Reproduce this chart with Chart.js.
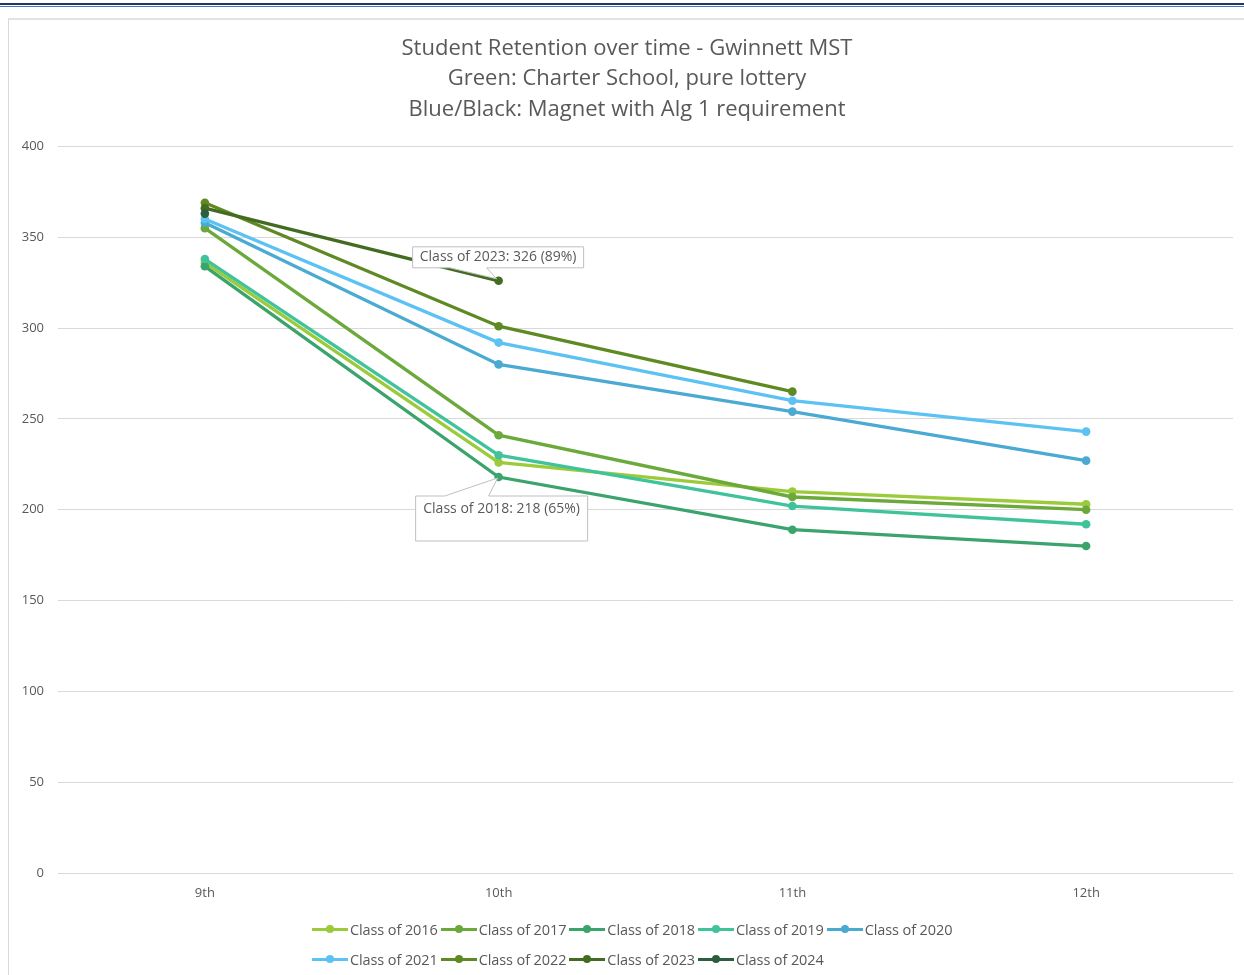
<!DOCTYPE html>
<html>
<head>
<meta charset="utf-8">
<script src="https://cdn.jsdelivr.net/npm/chart.js@4/dist/chart.umd.min.js"></script>
<style>
  body { margin: 0; background: #fff; }
  #wrap { position: relative; width: 1244px; height: 975px; overflow: hidden; }
  #topline { position: absolute; left: 0; top: 3px; width: 1244px; height: 1px;
             border-top: 2px solid #1f3864; border-bottom: 1px solid #4a78c0; }
  #frame { position: absolute; left: 8px; top: 18px; width: 1250px; height: 980px;
           border: 1px solid #d9d9d9; border-top: 2px solid #e3e3e3; }
  canvas { position: absolute; left: 0; top: 0; }
  #legend { position: absolute; left: 312px; top: 914px; width: 670px;
            display: flex; flex-wrap: wrap; font-family: "Open Sans", sans-serif;
            font-size: 14.5px; color: #595959; letter-spacing: -0.1px; }
  .item { display: flex; align-items: center; height: 30px; margin-right: 3px; }
  .mark { position: relative; width: 36px; height: 10px; margin-right: 2px; }
  .mark i { position: absolute; left: 0; top: 3.5px; width: 36px; height: 3px; }
  .mark b { position: absolute; left: 14px; top: 1px; width: 8px; height: 8px; border-radius: 50%; }
</style>
</head>
<body>
<div id="wrap">
  <div id="topline"></div>
  <div id="frame"></div>
  <canvas id="myChart" width="1244" height="975"></canvas>
  <div id="legend"></div>
</div>
<script>
// grades on the x axis
var grades = ["9th", "10th", "11th", "12th"];
var yTicks = [0, 50, 100, 150, 200, 250, 300, 350, 400];

// students left in each class, per grade
var class2016 = [336, 226, 210, 203];
var class2017 = [355, 241, 207, 200];
var class2018 = [334, 218, 189, 180];
var class2019 = [338, 230, 202, 192];
var class2020 = [358, 280, 254, 227];
var class2021 = [360, 292, 260, 243];
var class2022 = [369, 301, 265, null];
var class2023 = [366, 326, null, null];
var class2024 = [363, null, null, null];

var classNames = ["Class of 2016", "Class of 2017", "Class of 2018", "Class of 2019", "Class of 2020",
                  "Class of 2021", "Class of 2022", "Class of 2023", "Class of 2024"];
var classValues = [class2016, class2017, class2018, class2019, class2020,
                   class2021, class2022, class2023, class2024];
var lineColors = ["#9bcb3a", "#6aa93a", "#3ba36c", "#40c39b", "#4aaad2",
                  "#5cc2f3", "#5f8a23", "#436c21", "#2b5e3c"];

// callout labels: [dataset index, point index, text]
var callouts = [
  [7, 1, "Class of 2023: 326 (89%)"],
  [2, 1, "Class of 2018: 218 (65%)"]
];

var datasets = [];
for (var i = 0; i < classNames.length; i++) {
  datasets.push({
    label: classNames[i],
    data: classValues[i],
    borderColor: lineColors[i],
    backgroundColor: lineColors[i],
    borderWidth: 3.3,
    pointRadius: 4.3,
    pointBorderWidth: 0,
    order: classNames.length - i,
    spanGaps: false
  });
}

// draws the two Excel style callout boxes
var calloutPlugin = {
  id: "callouts",
  afterDatasetsDraw: function(chart) {
    var ctx = chart.ctx;
    ctx.save();
    ctx.font = "14px 'Open Sans'";
    ctx.textAlign = "center";
    ctx.textBaseline = "middle";
    ctx.strokeStyle = "#bfbfbf";
    ctx.lineWidth = 1;
    callouts.forEach(function(c, n) {
      var pt = chart.getDatasetMeta(c[0]).data[c[1]];
      var px = pt.x, py = pt.y;
      var l, r, t, b, ty;
      ctx.beginPath();
      if (n == 0) {
        l = px - 86; r = px + 85; t = py - 34; b = py - 13; ty = (t + b) / 2;
        ctx.moveTo(l, t); ctx.lineTo(r, t); ctx.lineTo(r, b);
        ctx.lineTo(px - 12, b); ctx.lineTo(px - 2, py - 2); ctx.lineTo(px - 49, b);
        ctx.lineTo(l, b); ctx.closePath();
      } else {
        l = px - 83; r = px + 89; t = py + 19; b = py + 64; ty = py + 32;
        ctx.moveTo(l, t); ctx.lineTo(px - 54, t); ctx.lineTo(px - 1, py + 1);
        ctx.lineTo(px - 10, t); ctx.lineTo(r, t); ctx.lineTo(r, b);
        ctx.lineTo(l, b); ctx.closePath();
      }
      ctx.fillStyle = "#ffffff";
      ctx.fill();
      ctx.stroke();
      ctx.fillStyle = "#595959";
      ctx.fillText(c[2], (l + r) / 2, ty);
    });
    ctx.restore();
  }
};

new Chart("myChart", {
  type: "line",
  data: { labels: grades, datasets: datasets },
  plugins: [calloutPlugin],
  options: {
    responsive: false,
    animation: false,
    layout: { padding: { left: 21, right: 11, top: 18, bottom: 71 } },
    plugins: {
      legend: { display: false },
      tooltip: { enabled: false },
      title: {
        display: true,
        text: ["Student Retention over time - Gwinnett MST",
               "Green: Charter School, pure lottery",
               "Blue/Black: Magnet with Alg 1 requirement"],
        color: "#595959",
        font: { family: "'Open Sans'", size: 22, weight: "normal", lineHeight: 1.4 },
        padding: { top: 15, bottom: 21 }
      }
    },
    scales: {
      x: {
        offset: true,
        grid: { display: false, drawTicks: false },
        border: { display: false },
        ticks: { color: "#595959", font: { family: "'Open Sans'", size: 13 }, padding: 12 },
        afterFit: function(s) { s.height = 31; }
      },
      y: {
        min: 0,
        max: 400,
        afterBuildTicks: function(s) { s.ticks = yTicks.map(function(v) { return { value: v }; }); },
        grid: { color: "#d9d9d9", drawTicks: false },
        border: { display: false },
        ticks: { color: "#595959", font: { family: "'Open Sans'", size: 13 }, padding: 14 },
        afterFit: function(s) { s.width = 37; }
      }
    }
  }
});

// legend laid out like Excel: rows packed from the left
var legend = document.getElementById("legend");
classNames.forEach(function(name, i) {
  var item = document.createElement("span");
  item.className = "item";
  item.innerHTML = '<span class="mark"><i style="background:' + lineColors[i] + '"></i><b style="background:' +
    lineColors[i] + '"></b></span>' + name;
  legend.appendChild(item);
});
</script>
</body>
</html>
